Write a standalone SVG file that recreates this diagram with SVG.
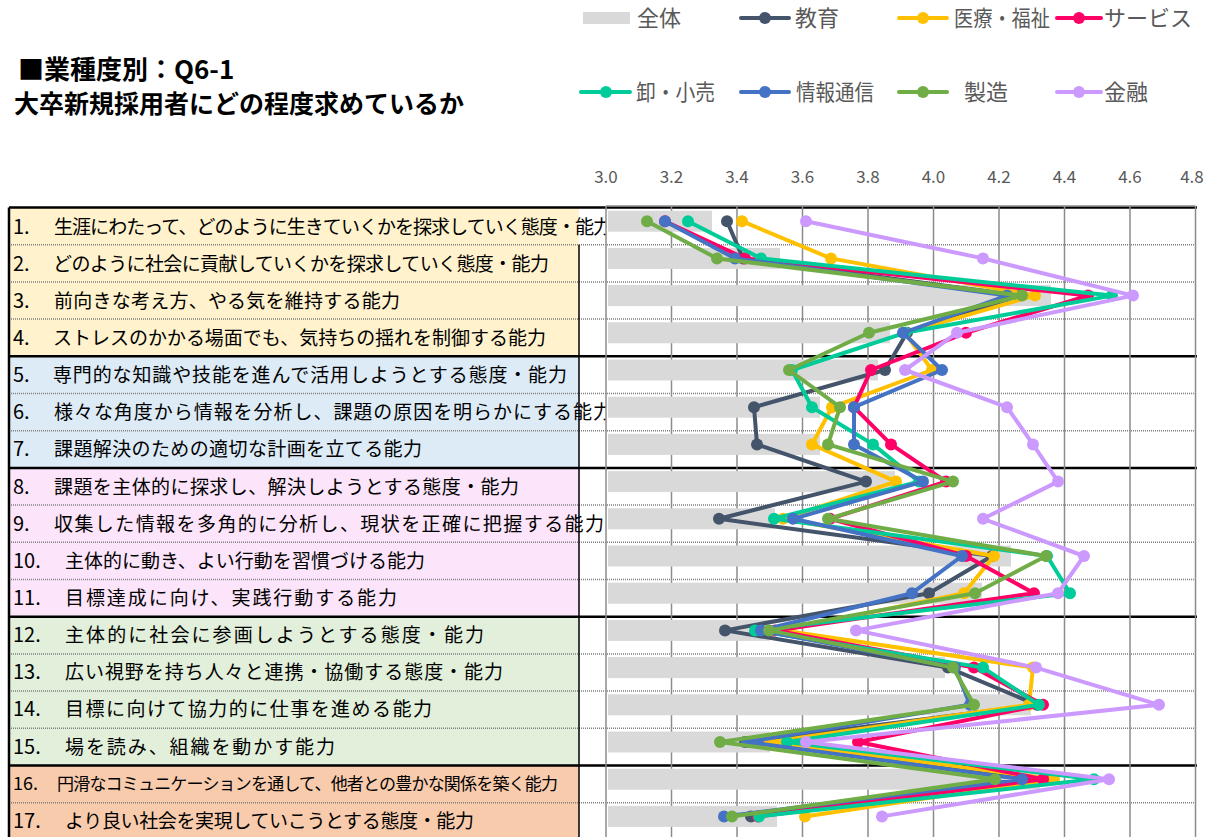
<svg xmlns="http://www.w3.org/2000/svg" width="1207" height="837" viewBox="0 0 1207 837">
<style>
.t{font-family:"Noto Sans CJK JP","Noto Sans",sans-serif;}
.lbl{font-size:19px;fill:#000;}
.num{font-size:20px;}
.ax{font-size:17px;fill:#595959;text-anchor:middle;}
.lg{font-size:22px;fill:#595959;}
.ttl{font-weight:bold;fill:#000;}
.dot{stroke:#7f7f7f;stroke-width:1.5;stroke-dasharray:1 1;fill:none;}
.thk{stroke:#000;stroke-width:2.5;fill:none;}
.grid{stroke:#8c8c8c;stroke-width:1.5;fill:none;}
.bar{fill:#d9d9d9;}
.s{fill:none;stroke-width:4;stroke-linejoin:round;stroke-linecap:round;}
</style>
<defs>
<clipPath id="lc"><rect x="0" y="200" width="606" height="640"/></clipPath>
<marker id="m1" markerUnits="userSpaceOnUse" markerWidth="14" markerHeight="14" refX="7" refY="7" viewBox="0 0 14 14"><circle cx="7" cy="7" r="6" fill="#44546A"/></marker>
<marker id="m2" markerUnits="userSpaceOnUse" markerWidth="14" markerHeight="14" refX="7" refY="7" viewBox="0 0 14 14"><circle cx="7" cy="7" r="6" fill="#FFC000"/></marker>
<marker id="m3" markerUnits="userSpaceOnUse" markerWidth="14" markerHeight="14" refX="7" refY="7" viewBox="0 0 14 14"><circle cx="7" cy="7" r="6" fill="#FF0066"/></marker>
<marker id="m4" markerUnits="userSpaceOnUse" markerWidth="14" markerHeight="14" refX="7" refY="7" viewBox="0 0 14 14"><circle cx="7" cy="7" r="6" fill="#00CC99"/></marker>
<marker id="m5" markerUnits="userSpaceOnUse" markerWidth="14" markerHeight="14" refX="7" refY="7" viewBox="0 0 14 14"><circle cx="7" cy="7" r="6" fill="#4472C4"/></marker>
<marker id="m6" markerUnits="userSpaceOnUse" markerWidth="14" markerHeight="14" refX="7" refY="7" viewBox="0 0 14 14"><circle cx="7" cy="7" r="6" fill="#70AD47"/></marker>
<marker id="m7" markerUnits="userSpaceOnUse" markerWidth="14" markerHeight="14" refX="7" refY="7" viewBox="0 0 14 14"><circle cx="7" cy="7" r="6" fill="#CC99FF"/></marker>
</defs>
<rect width="1207" height="837" fill="#fff"/>

<g id="title" class="t">
<text class="ttl" x="18" y="79" font-size="26">■業種度別：Q6-1</text>
<text class="ttl" x="14" y="113" font-size="25">大卒新規採用者にどの程度求めているか</text>
</g>

<g id="legend" class="t">
<rect x="583" y="12" width="47" height="12" fill="#d9d9d9"/>
<text class="lg" x="637" y="26">全体</text>
<line x1="741" y1="18" x2="789" y2="18" stroke="#44546A" stroke-width="4" stroke-linecap="round"/><circle cx="765" cy="18" r="6" fill="#44546A"/>
<text class="lg" x="795" y="26">教育</text>
<line x1="899" y1="18" x2="947" y2="18" stroke="#FFC000" stroke-width="4" stroke-linecap="round"/><circle cx="923" cy="18" r="6" fill="#FFC000"/>
<text class="lg" x="954" y="26" textLength="96" lengthAdjust="spacingAndGlyphs">医療・福祉</text>
<line x1="1057" y1="18" x2="1101" y2="18" stroke="#FF0066" stroke-width="4" stroke-linecap="round"/><circle cx="1079" cy="18" r="6" fill="#FF0066"/>
<text class="lg" x="1104" y="26">サービス</text>
<line x1="581" y1="92" x2="630" y2="92" stroke="#00CC99" stroke-width="4" stroke-linecap="round"/><circle cx="606" cy="92" r="6" fill="#00CC99"/>
<text class="lg" x="636" y="100" textLength="79" lengthAdjust="spacingAndGlyphs">卸・小売</text>
<line x1="741" y1="92" x2="789" y2="92" stroke="#4472C4" stroke-width="4" stroke-linecap="round"/><circle cx="765" cy="92" r="6" fill="#4472C4"/>
<text class="lg" x="796" y="100" textLength="78" lengthAdjust="spacingAndGlyphs">情報通信</text>
<line x1="899" y1="92" x2="947" y2="92" stroke="#70AD47" stroke-width="4" stroke-linecap="round"/><circle cx="923" cy="92" r="6" fill="#70AD47"/>
<text class="lg" x="964" y="100">製造</text>
<line x1="1057" y1="92" x2="1101" y2="92" stroke="#CC99FF" stroke-width="4" stroke-linecap="round"/><circle cx="1079" cy="92" r="6" fill="#CC99FF"/>
<text class="lg" x="1104" y="100">金融</text>
</g>

<g id="axis" class="t">
<text class="ax" x="606" y="183">3.0</text>
<text class="ax" x="671.5" y="183">3.2</text>
<text class="ax" x="737" y="183">3.4</text>
<text class="ax" x="802.5" y="183">3.6</text>
<text class="ax" x="868" y="183">3.8</text>
<text class="ax" x="933.5" y="183">4.0</text>
<text class="ax" x="999" y="183">4.2</text>
<text class="ax" x="1064.5" y="183">4.4</text>
<text class="ax" x="1130" y="183">4.6</text>
<text class="ax" x="1192" y="183">4.8</text>
</g>

<g id="table">
<rect x="9" y="207.5" width="570" height="148.8" fill="#FFF2CC"/>
<rect x="9" y="356.3" width="570" height="111.6" fill="#DDEBF7"/>
<rect x="9" y="467.9" width="570" height="148.8" fill="#FCE4FA"/>
<rect x="9" y="616.7" width="570" height="148.8" fill="#E2EFDA"/>
<rect x="9" y="765.5" width="570" height="74.4" fill="#F8CBAD"/>
<path class="dot" d="M9 244.7H1197M9 281.9H1197M9 319.1H1197M9 393.5H1197M9 430.7H1197M9 505.1H1197M9 542.3H1197M9 579.5H1197M9 653.9H1197M9 691.1H1197M9 728.3H1197M9 802.7H1197"/>
<path class="thk" d="M9 207.5H1197M9 356.3H1197M9 467.9H1197M9 616.7H1197M9 765.5H1197"/>
<path d="M9 207.5V837" stroke="#000" stroke-width="2.5"/>
<path d="M579 244.7V837" stroke="#000" stroke-width="1.5"/>
</g>

<g id="labels" class="t lbl" clip-path="url(#lc)">
<text class="num" x="13" y="233.5">1.</text><text x="54" y="233.5" textLength="558">生涯にわたって、どのように生きていくかを探求していく態度・能力</text>
<text class="num" x="13" y="270.5">2.</text><text x="53" y="270.5" textLength="496">どのように社会に貢献していくかを探求していく態度・能力</text>
<text class="num" x="13" y="307.5">3.</text><text x="54" y="307.5" textLength="346">前向きな考え方、やる気を維持する能力</text>
<text class="num" x="13" y="344.5">4.</text><text x="53" y="344.5" textLength="493">ストレスのかかる場面でも、気持ちの揺れを制御する能力</text>
<text class="num" x="13" y="382">5.</text><text x="53" y="382" textLength="514">専門的な知識や技能を進んで活用しようとする態度・能力</text>
<text class="num" x="13" y="419">6.</text><text x="54" y="419" textLength="558">様々な角度から情報を分析し、課題の原因を明らかにする能力</text>
<text class="num" x="13" y="456">7.</text><text x="54" y="456" textLength="368">課題解決のための適切な計画を立てる能力</text>
<text class="num" x="13" y="493.5">8.</text><text x="54" y="493.5" textLength="465">課題を主体的に探求し、解決しようとする態度・能力</text>
<text class="num" x="13" y="530.5">9.</text><text x="54" y="530.5" textLength="550">収集した情報を多角的に分析し、現状を正確に把握する能力</text>
<text class="num" x="13" y="567.5">10.</text><text x="65" y="567.5" textLength="360">主体的に動き、よい行動を習慣づける能力</text>
<text class="num" x="13" y="604.5">11.</text><text x="65" y="604.5" textLength="332">目標達成に向け、実践行動する能力</text>
<text class="num" x="13" y="642">12.</text><text x="65" y="642" textLength="419">主体的に社会に参画しようとする態度・能力</text>
<text class="num" x="13" y="679">13.</text><text x="65" y="679" textLength="438">広い視野を持ち人々と連携・協働する態度・能力</text>
<text class="num" x="13" y="716">14.</text><text x="65" y="716" textLength="367">目標に向けて協力的に仕事を進める能力</text>
<text class="num" x="13" y="753.5">15.</text><text x="65" y="753.5" textLength="270">場を読み、組織を動かす能力</text>
<text x="13" y="790" font-size="18">16.</text><text x="57" y="790" font-size="17" textLength="501">円滑なコミュニケーションを通して、他者との豊かな関係を築く能力</text>
<text class="num" x="13" y="828">17.</text><text x="65" y="828" textLength="409">より良い社会を実現していこうとする態度・能力</text>
</g>

<g id="chart">
<path class="grid" d="M606 206V837M671.5 206V837M737 206V837M802.5 206V837M868 206V837M933.5 206V837M999 206V837M1064.5 206V837M1130 206V837M1195.5 206V837M606 206H1195.5"/>
<g id="bars">
<rect class="bar" x="608" y="210.7" width="104" height="21"/>
<rect class="bar" x="608" y="247.9" width="172" height="21"/>
<rect class="bar" x="608" y="285.1" width="443" height="21"/>
<rect class="bar" x="608" y="322.3" width="282" height="21"/>
<rect class="bar" x="608" y="359.5" width="270" height="21"/>
<rect class="bar" x="608" y="396.7" width="212" height="21"/>
<rect class="bar" x="608" y="433.9" width="212" height="21"/>
<rect class="bar" x="608" y="471.1" width="287" height="21"/>
<rect class="bar" x="608" y="508.3" width="167" height="21"/>
<rect class="bar" x="608" y="545.5" width="403" height="21"/>
<rect class="bar" x="608" y="582.7" width="374" height="21"/>
<rect class="bar" x="608" y="619.9" width="162" height="21"/>
<rect class="bar" x="608" y="657.1" width="337" height="21"/>
<rect class="bar" x="608" y="694.3" width="423" height="21"/>
<rect class="bar" x="608" y="731.5" width="162" height="21"/>
<rect class="bar" x="608" y="768.7" width="432" height="21"/>
<rect class="bar" x="608" y="805.9" width="169" height="21"/>
</g>
</g>

<g id="connectors">
<polyline class="s" stroke="#44546A" marker-start="url(#m1)" marker-mid="url(#m1)" marker-end="url(#m1)" points="727,221.2 743,258.4 1019,295.6 907,332.8 885,370 754,407.2 757,444.4 866,481.6 719,518.8 992,556 929,593.2 725,630.4 948,667.6 1037,704.8 745,742 1045,779.2 751,816.4"/>
<polyline class="s" stroke="#FFC000" marker-start="url(#m2)" marker-mid="url(#m2)" marker-end="url(#m2)" points="742,221.2 831,258.4 1035,295.6 905,332.8 932,370 832,407.2 812,444.4 896,481.6 783,518.8 994,556 964,593.2 783,630.4 1033,667.6 1029,704.8 770,742 1054,779.2 805,816.4"/>
<polyline class="s" stroke="#FF0066" marker-start="url(#m3)" marker-mid="url(#m3)" marker-end="url(#m3)" points="665,221.2 745,258.4 1088,295.6 966,332.8 871,370 854,407.2 891,444.4 946,481.6 830,518.8 966,556 1034,593.2 775,630.4 974,667.6 1043,704.8 858,742 1043,779.2 758,816.4"/>
<polyline class="s" stroke="#00CC99" marker-start="url(#m4)" marker-mid="url(#m4)" marker-end="url(#m4)" points="688,221.2 761,258.4 1112,295.6 905,332.8 792,370 812,407.2 873,444.4 919,481.6 774,518.8 1047,556 1070,593.2 755,630.4 983,667.6 1039,704.8 787,742 1094,779.2 759,816.4"/>
<polyline class="s" stroke="#4472C4" marker-start="url(#m5)" marker-mid="url(#m5)" marker-end="url(#m5)" points="665,221.2 735,258.4 1007,295.6 903,332.8 942,370 854,407.2 854,444.4 923,481.6 793,518.8 962,556 912,593.2 761,630.4 955,667.6 970,704.8 747,742 1022,779.2 724,816.4"/>
<polyline class="s" stroke="#70AD47" marker-start="url(#m6)" marker-mid="url(#m6)" marker-end="url(#m6)" points="647,221.2 717,258.4 1022,295.6 869,332.8 789,370 840,407.2 828,444.4 953,481.6 828,518.8 1046,556 975,593.2 769,630.4 953,667.6 974,704.8 720,742 995,779.2 732,816.4"/>
<polyline class="s" stroke="#CC99FF" marker-start="url(#m7)" marker-mid="url(#m7)" marker-end="url(#m7)" points="806,221.2 983,258.4 1133,295.6 957,332.8 905,370 1007,407.2 1033,444.4 1058,481.6 983,518.8 1084,556 1058,593.2 856,630.4 1036,667.6 1159,704.8 806,742 1109,779.2 882,816.4"/>
</g>
</svg>
